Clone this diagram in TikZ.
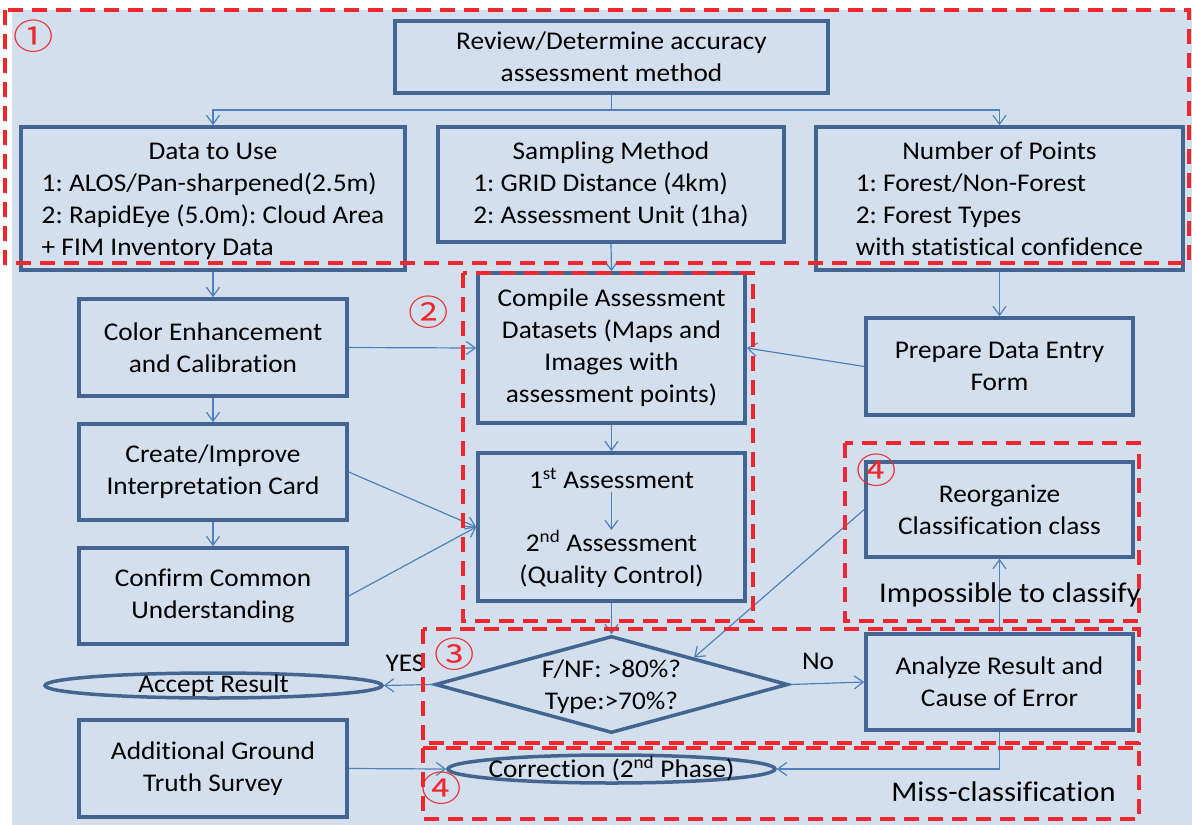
\documentclass[tikz,border=0pt]{standalone}
\usepackage{fontspec}
\setmainfont{Carlito}[FakeStretch=1.07,Ligatures=NoCommon]
\newfontfamily\cjk{Noto Sans CJK SC}[FakeStretch=1.15]
\usetikzlibrary{arrows.meta,shapes.geometric,calc}
\definecolor{bgc}{RGB}{211,223,237}
\definecolor{boxc}{RGB}{67,101,145}
\definecolor{linec}{RGB}{79,129,189}
\definecolor{redc}{RGB}{238,40,45}
\newcommand{\mainfs}{\fontsize{25.5}{32}\selectfont\frenchspacing}
\newcommand{\bigfs}{\fontsize{28.5}{34}\selectfont}
\tikzset{
  box/.style={draw=boxc, line width=3.5pt, inner sep=0pt, align=center, font=\mainfs},
  oval/.style={draw=boxc, line width=3.5pt, ellipse, inner sep=0pt},
  conn/.style={draw=linec, line width=1.2pt, -{Straight Barb[length=9pt,width=13pt]}},
  plain/.style={draw=linec, line width=1.2pt},
  reddash/.style={draw=redc, line width=4pt, dash pattern=on 15pt off 9pt},
  circnum/.style={text=redc, font=\cjk\fontsize{35}{35}\selectfont, inner sep=0pt},
  txt/.style={font=\mainfs, inner sep=0pt, align=center},
  bigtxt/.style={font=\bigfs, inner sep=0pt}
}
\begin{document}
\begin{tikzpicture}[x=1pt,y=-1pt]
\useasboundingbox (0,0) rectangle (1192,825);
\fill[bgc] (12,10) rectangle (1192,825);

% boxes
\node[box, minimum width=433, minimum height=72] (top) at (611.5,57) {Review/Determine accuracy\\assessment method};
\node[box, minimum width=384, minimum height=143] (data) at (213,198.5)
  {\raisebox{-3pt}[\height][\depth]{\begin{tabular}{@{}l@{}}\multicolumn{1}{c}{Data to Use}\\1: ALOS/Pan-sharpened(2.5m)\\2: RapidEye (5.0m): Cloud Area\\+ FIM Inventory Data\end{tabular}}};
\node[box, minimum width=346, minimum height=115] (samp) at (611,184.5)
  {\raisebox{-1pt}[\height][\depth]{\begin{tabular}{@{}l@{}}\multicolumn{1}{c}{Sampling Method}\\1: GRID Distance (4km)\\2: Assessment Unit (1ha)\end{tabular}}};
\node[box, minimum width=367, minimum height=143] (npts) at (999.5,198.5)
  {\raisebox{-3pt}[\height][\depth]{\begin{tabular}{@{}l@{}}\multicolumn{1}{c}{Number of Points}\\1: Forest/Non-Forest\\2: Forest Types\\with statistical confidence\end{tabular}}};
\node[box, minimum width=268, minimum height=97] (color) at (213,347.5) {Color Enhancement\\and Calibration};
\node[box, minimum width=268, minimum height=96] (create) at (213,472) {Create/Improve\\Interpretation Card};
\node[box, minimum width=268, minimum height=96] (confirm) at (213,596) {Confirm Common\\Understanding};
\node[box, minimum width=267, minimum height=150] (compile) at (611.5,348) {Compile Assessment\\Datasets (Maps and\\Images with\\assessment points)};
\node[box, minimum width=267, minimum height=148] (assess) at (611.5,527) {};
\node[txt] (a1) at (611.5,478) {1\textsuperscript{st} Assessment};
\node[txt] (a2) at (611.5,559) {2\textsuperscript{nd} Assessment\\(Quality Control)};
\node[box, minimum width=267, minimum height=97] (prep) at (999.5,366.5) {Prepare Data Entry\\Form};
\node[box, minimum width=267, minimum height=95] (reorg) at (999.5,509.5) {Reorganize\\Classification class};
\node[box, diamond, minimum width=353, minimum height=97] (dia) at (611.5,684.5) {};
\node[txt] (diatxt) at (611.5,687) {F/NF: >80\%?\\Type:>70\%?};
\node[oval, minimum width=337, minimum height=25] (accept) at (213.5,685.5) {};
\node[txt] (accepttxt) at (213.5,686) {Accept Result};
\node[box, minimum width=267, minimum height=96] (analyze) at (999.5,682) {Analyze Result and\\Cause of Error};
\node[box, minimum width=268, minimum height=97] (addl) at (213,768.5) {Additional Ground\\Truth Survey};
\node[oval, minimum width=327, minimum height=28] (corr) at (611.5,769) {};
\node[txt] (corrtxt) at (611.5,769) {Correction (2\textsuperscript{nd} Phase)};

% connectors
\coordinate (split) at (611.5,110);
\draw[plain] (top.south) -- (split);
\draw[conn] (split) -| (data.north);
\draw[conn] (split) -| (npts.north);
\draw[conn] (data.south) -- (color.north);
\draw[conn] (color.south) -- (create.north);
\draw[conn] (create.south) -- (confirm.north);
\draw[conn] (samp.south) -- (compile.north);
\draw[conn] (npts.south) -- (prep.north);
\draw[conn] (color.east) -- (compile.west);
\draw[conn] (prep.west) -- (compile.east);
\draw[conn] (create.east) -- (assess.west);
\draw[conn] (confirm.east) -- (assess.west);
\draw[conn] (compile.south) -- (assess.north);
\draw[conn, shorten <=4pt] (a1.south) -- (a2.north);
\draw[conn] (assess.south) -- (dia.north);
\coordinate (dhit) at ($(dia.north)!0.463!(dia.east)$);
\draw[conn] (reorg.west) -- (dhit);
\draw[conn] (dia.west) -- (accept.east);
\draw[conn] (dia.east) -- (analyze.west);
\draw[conn] (analyze.north) -- (reorg.south);
\draw[conn] (analyze.south) |- (corr.east);
\draw[conn] (addl.east) -- (corr.west);

\node[txt] (yes) at (405,663) {YES};
\node[txt] (no) at (818,661) {No};
\node[bigtxt] (imp) at (1010,595) {Impossible to classify};
\node[bigtxt] (miss) at (1003.5,792) {Miss-classification};

% red dashed regions
\draw[reddash] (5,10) rectangle (1189,263);
\draw[reddash] (463,273) rectangle (753,621);
\draw[reddash] (845,443) rectangle (1139,621);
\draw[reddash] (423,629) rectangle (1139,743);
\draw[reddash] (423,748) rectangle (1139,819);

\node[circnum] (c1) at (34,36) {①};
\node[circnum] (c2) at (429,312) {②};
\node[circnum] (c3) at (455,654) {③};
\node[circnum] (c4a) at (877,470) {④};
\node[circnum] (c4b) at (442,788) {④};
\end{tikzpicture}
\end{document}
